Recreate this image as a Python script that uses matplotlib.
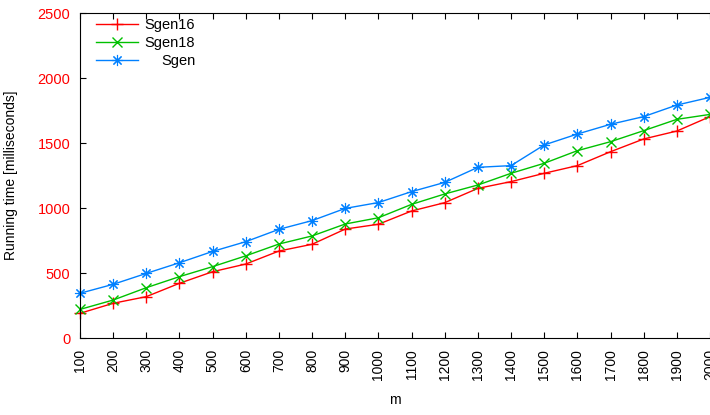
import numpy as np
import matplotlib.pyplot as plt

plt.rcParams['font.family'] = ['Liberation Sans', 'DejaVu Sans']

# problem size m
m = [100, 200, 300, 400, 500, 600, 700, 800, 900, 1000,
     1100, 1200, 1300, 1400, 1500, 1600, 1700, 1800, 1900, 2000]

# running times in milliseconds
sgen16 = [190, 267, 318, 421, 510, 569, 669, 721, 838, 875,
          977, 1041, 1151, 1203, 1267, 1326, 1433, 1531, 1592, 1703]
sgen18 = [220, 292, 387, 472, 549, 632, 723, 785, 877, 925,
          1028, 1108, 1177, 1267, 1344, 1441, 1510, 1595, 1682, 1720]
sgen = [344, 413, 497, 579, 666, 741, 836, 903, 997, 1042,
        1126, 1197, 1313, 1326, 1485, 1569, 1644, 1703, 1792, 1851]

y_ticks = [0, 500, 1000, 1500, 2000, 2500]

fig = plt.figure(figsize=(7.1, 4.15), dpi=100)
ax = fig.add_axes([80 / 710, 77 / 415, 630 / 710, 325 / 415])

ax.plot(m, sgen16, color='#ff0000', lw=1, marker='+', ms=9, mew=1, label='Sgen16', clip_on=False)
ax.plot(m, sgen18, color='#00c000', lw=1, marker='x', ms=7, mew=1, label='Sgen18', clip_on=False)
ax.plot(m, sgen, color='#0080ff', lw=1, marker=(8, 2, 0), ms=8, mew=0.8, label='Sgen', clip_on=False)

ax.set_xlim(100, 2000)
ax.set_ylim(0, 2500)
ax.set_xticks(m)
ax.set_xticklabels([str(v) for v in m], rotation=90, fontsize=10)
ax.set_yticks(y_ticks)
ax.set_yticklabels([str(v) for v in y_ticks], fontsize=10.5, color='#ff0000')
ax.tick_params(axis='x', direction='in', top=True, length=4, pad=8)
ax.tick_params(axis='y', direction='in', right=False, length=4, pad=7)
ax.spines['right'].set_visible(False)

ax.set_xlabel('m', fontsize=10, labelpad=9)
ax.set_ylabel('Running time [milliseconds]', fontsize=10, labelpad=14)

leg = ax.legend(loc='upper left', bbox_to_anchor=(0.025, 0.985), frameon=False,
                fontsize=10.5, handlelength=2.9, handletextpad=0.45,
                labelspacing=0.28, borderaxespad=0, borderpad=0)

# right-align the legend labels
fig.canvas.draw()
renderer = fig.canvas.get_renderer()
texts = leg.get_texts()
widths = [t.get_window_extent(renderer).width for t in texts]
widest = max(widths)
for t, w in zip(texts, widths):
    t.set_position((widest - w, 0))

fig.savefig('out.png', dpi=100)
